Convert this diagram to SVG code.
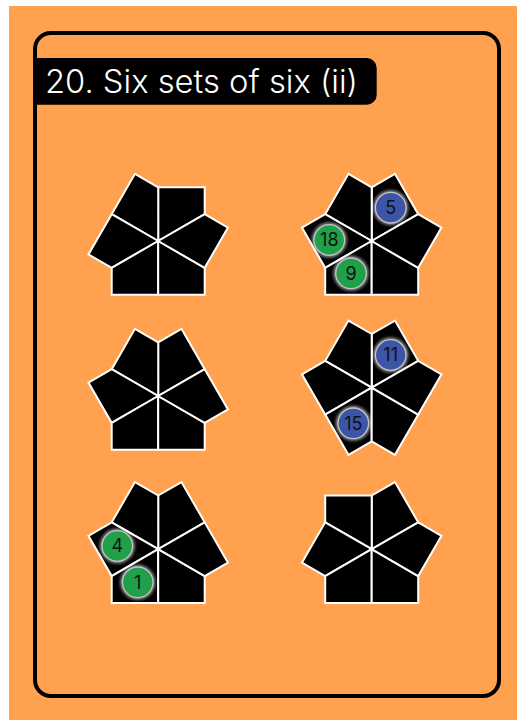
<svg xmlns="http://www.w3.org/2000/svg" width="517" height="720" viewBox="0 0 517 720">
  <style>
    .pc { fill: #000; stroke: #fff; stroke-width: 2; stroke-linejoin: miter; }
    .title { font-family: Inter, "Noto Sans", sans-serif; font-weight: 300; font-size: 32px; fill: #fff; }
    .num { font-family: Inter, "Noto Sans", sans-serif; font-weight: 400; font-size: 18px; fill: #111; text-anchor: middle; }
    .blue { fill: #3c55a6; stroke: #c4c4c4; stroke-width: 1.3; }
    .green { fill: #21a04a; stroke: #c4c4c4; stroke-width: 1.3; }
    .halo { fill: #fff; opacity: 0.55; }
  </style>
  <defs>
    <filter id="glow" x="-50%" y="-50%" width="200%" height="200%">
      <feGaussianBlur stdDeviation="1.8"/>
    </filter>
  </defs>
  <rect x="9" y="6" width="508" height="714" fill="#ffa14f"/>
  <rect id="frame" x="35" y="33" width="464" height="663" rx="16" ry="16" fill="none" stroke="#000" stroke-width="4"/>
  <g id="title">
    <path d="M35,58 H366.7 A10,10 0 0 1 376.7,68 V94.7 A10,10 0 0 1 366.7,104.7 H35 Z" fill="#000"/>
    <text class="title" x="45" y="92.5" textLength="313" lengthAdjust="spacingAndGlyphs">20. Six sets of six (ii)</text>
  </g>

  <!-- Shape 1: a a b a b b -->
  <g id="shape1" transform="translate(158.2,241)">
    <polygon class="pc" points="0,0 46.5,-26.85 46.5,-53.7 0,-53.7"/>
    <polygon class="pc" points="0,0 0,-53.7 -23.25,-67.13 -46.5,-26.85"/>
    <polygon class="pc" points="0,0 -46.5,-26.85 -69.76,13.43 -46.5,26.85"/>
    <polygon class="pc" points="0,0 -46.5,26.85 -46.5,53.7 0,53.7"/>
    <polygon class="pc" points="0,0 0,53.7 46.5,53.7 46.5,26.85"/>
    <polygon class="pc" points="0,0 46.5,26.85 69.76,-13.43 46.5,-26.85"/>
  </g>

  <!-- Shape 2: b a a a b b -->
  <g id="shape2" transform="translate(371.7,241)">
    <polygon class="pc" points="0,0 46.5,-26.85 23.25,-67.13 0,-53.7"/>
    <polygon class="pc" points="0,0 0,-53.7 -23.25,-67.13 -46.5,-26.85"/>
    <polygon class="pc" points="0,0 -46.5,-26.85 -69.76,-13.43 -46.5,26.85"/>
    <polygon class="pc" points="0,0 -46.5,26.85 -46.5,53.7 0,53.7"/>
    <polygon class="pc" points="0,0 0,53.7 46.5,53.7 46.5,26.85"/>
    <polygon class="pc" points="0,0 46.5,26.85 69.76,-13.43 46.5,-26.85"/>
  </g>

  <!-- Shape 3: b a a a b a -->
  <g id="shape3" transform="translate(158.2,396)">
    <polygon class="pc" points="0,0 46.5,-26.85 23.25,-67.13 0,-53.7"/>
    <polygon class="pc" points="0,0 0,-53.7 -23.25,-67.13 -46.5,-26.85"/>
    <polygon class="pc" points="0,0 -46.5,-26.85 -69.76,-13.43 -46.5,26.85"/>
    <polygon class="pc" points="0,0 -46.5,26.85 -46.5,53.7 0,53.7"/>
    <polygon class="pc" points="0,0 0,53.7 46.5,53.7 46.5,26.85"/>
    <polygon class="pc" points="0,0 46.5,26.85 69.76,13.43 46.5,-26.85"/>
  </g>

  <!-- Shape 4: b a a b a b -->
  <g id="shape4" transform="translate(371.7,387.7)">
    <polygon class="pc" points="0,0 46.5,-26.85 23.25,-67.13 0,-53.7"/>
    <polygon class="pc" points="0,0 0,-53.7 -23.25,-67.13 -46.5,-26.85"/>
    <polygon class="pc" points="0,0 -46.5,-26.85 -69.76,-13.43 -46.5,26.85"/>
    <polygon class="pc" points="0,0 -46.5,26.85 -23.25,67.13 0,53.7"/>
    <polygon class="pc" points="0,0 0,53.7 23.25,67.13 46.5,26.85"/>
    <polygon class="pc" points="0,0 46.5,26.85 69.76,-13.43 46.5,-26.85"/>
  </g>

  <!-- Shape 5: b a a a b a -->
  <g id="shape5" transform="translate(158.2,549.2)">
    <polygon class="pc" points="0,0 46.5,-26.85 23.25,-67.13 0,-53.7"/>
    <polygon class="pc" points="0,0 0,-53.7 -23.25,-67.13 -46.5,-26.85"/>
    <polygon class="pc" points="0,0 -46.5,-26.85 -69.76,-13.43 -46.5,26.85"/>
    <polygon class="pc" points="0,0 -46.5,26.85 -46.5,53.7 0,53.7"/>
    <polygon class="pc" points="0,0 0,53.7 46.5,53.7 46.5,26.85"/>
    <polygon class="pc" points="0,0 46.5,26.85 69.76,13.43 46.5,-26.85"/>
  </g>

  <!-- Shape 6: b b b a b b -->
  <g id="shape6" transform="translate(371.7,549.2)">
    <polygon class="pc" points="0,0 46.5,-26.85 23.25,-67.13 0,-53.7"/>
    <polygon class="pc" points="0,0 0,-53.7 -46.5,-53.7 -46.5,-26.85"/>
    <polygon class="pc" points="0,0 -46.5,-26.85 -69.76,13.43 -46.5,26.85"/>
    <polygon class="pc" points="0,0 -46.5,26.85 -46.5,53.7 0,53.7"/>
    <polygon class="pc" points="0,0 0,53.7 46.5,53.7 46.5,26.85"/>
    <polygon class="pc" points="0,0 46.5,26.85 69.76,-13.43 46.5,-26.85"/>
  </g>

  <!-- Number discs -->
  <g id="disc5">
    <circle class="halo" cx="390.7" cy="207.7" r="17.5" filter="url(#glow)"/>
    <circle class="blue" cx="390.7" cy="207.7" r="15.3"/>
    <text class="num" x="390.7" y="214.1">5</text>
  </g>
  <g id="disc18">
    <circle class="halo" cx="329.3" cy="240" r="17.5" filter="url(#glow)"/>
    <circle class="green" cx="329.3" cy="240" r="15.3"/>
    <text class="num" x="329.3" y="246.4">18</text>
  </g>
  <g id="disc9">
    <circle class="halo" cx="351" cy="273.3" r="17.5" filter="url(#glow)"/>
    <circle class="green" cx="351" cy="273.3" r="15.3"/>
    <text class="num" x="351" y="279.7">9</text>
  </g>
  <g id="disc11">
    <circle class="halo" cx="390.7" cy="355" r="17.5" filter="url(#glow)"/>
    <circle class="blue" cx="390.7" cy="355" r="15.3"/>
    <text class="num" x="390.7" y="361.4">11</text>
  </g>
  <g id="disc15">
    <circle class="halo" cx="353.3" cy="423.3" r="17.5" filter="url(#glow)"/>
    <circle class="blue" cx="353.3" cy="423.3" r="15.3"/>
    <text class="num" x="353.3" y="429.7">15</text>
  </g>
  <g id="disc4">
    <circle class="halo" cx="117.3" cy="546" r="17.5" filter="url(#glow)"/>
    <circle class="green" cx="117.3" cy="546" r="15.3"/>
    <text class="num" x="117.3" y="552.4">4</text>
  </g>
  <g id="disc1">
    <circle class="halo" cx="137.7" cy="582.3" r="17.5" filter="url(#glow)"/>
    <circle class="green" cx="137.7" cy="582.3" r="15.3"/>
    <text class="num" x="137.7" y="588.7">1</text>
  </g>
  <g id="connectors"></g>
</svg>
